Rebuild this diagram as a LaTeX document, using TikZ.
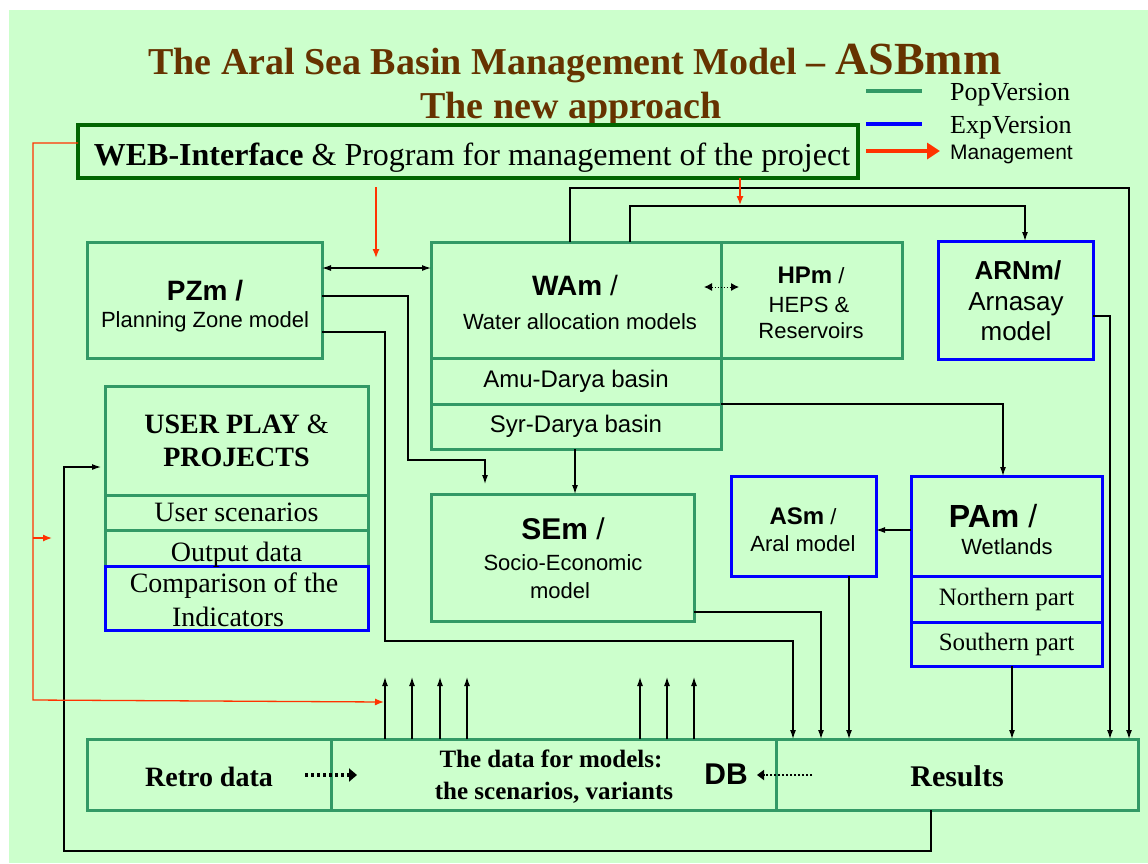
\documentclass[tikz,border=0pt]{standalone}
\usepackage{fontspec}
\setmainfont{Liberation Serif}
\setsansfont{Liberation Sans}
\usetikzlibrary{arrows.meta,calc}
\definecolor{bg}{HTML}{CCFFCC}
\definecolor{bgreen}{HTML}{339966}
\definecolor{wgreen}{HTML}{006600}
\definecolor{bblue}{HTML}{0000FF}
\definecolor{ttlbrown}{HTML}{663300}
\definecolor{mred}{HTML}{FF3300}
\newcommand{\fsz}[2]{\fontsize{#1}{#2}\selectfont}
\begin{document}
\begin{tikzpicture}[x=1pt,y=-1pt,
  gbox/.style={draw=bgreen,line width=3pt,inner sep=0pt,outer sep=0pt,align=center},
  bbox/.style={gbox,draw=bblue},
  txt/.style={inner sep=0pt,outer sep=0pt,anchor=base,align=center},
  conn/.style={draw=black,line width=1.2pt,-{Latex[length=9pt,width=6pt]}},
  rconn/.style={draw=mred,line width=1.3pt,-{Latex[length=9pt,width=7pt]}},
  dotarr/.style={draw=black,line width=4pt,dash pattern=on 3pt off 3pt},
]
\useasboundingbox (0,0) rectangle (1148,863);
\fill[white] (0,0) rectangle (1148,863);
\fill[bg] (9,10) rectangle (1148,863);

% title
\node[anchor=base west,inner sep=0pt,text=ttlbrown,font=\bfseries\fsz{38}{38}] (title) at (148,74)
  {The Aral Sea Basin Management Model -- {\fsz{46}{46}ASBmm}};
\node[txt,text=ttlbrown,font=\bfseries\fsz{38}{38}] (title2) at (571,118) {The new approach};

% legend
\coordinate (lg1a) at (866,91); \coordinate (lg1b) at (922,91);
\coordinate (lg2a) at (866,124); \coordinate (lg2b) at (922,124);
\coordinate (lg3a) at (866,151); \coordinate (lg3b) at (940,151);
\draw[bgreen,line width=4pt] (lg1a) -- (lg1b);
\draw[bblue,line width=4pt] (lg2a) -- (lg2b);
\draw[mred,line width=4pt,-{Triangle[length=13pt,width=16pt]}] (lg3a) -- (lg3b);
\node[anchor=base west,inner sep=0pt,font=\fsz{26}{26}] (lgt1) at (950,100) {PopVersion};
\node[anchor=base west,inner sep=0pt,font=\fsz{26}{26}] (lgt2) at (950,133) {ExpVersion};
\node[anchor=base west,inner sep=0pt,font=\sffamily\fsz{21}{21}] (lgt3) at (950,159) {Management};

% WEB interface
\node[draw=wgreen,line width=3.5pt,inner sep=0pt,outer sep=0pt,minimum width=780pt,minimum height=53pt] (web) at (468,151.5) {};
\node[txt,font=\fsz{32}{32}] (webt) at (472,165) {\textbf{WEB-Interface} \& Program for management of the project};

% boxes
\node[gbox,minimum width=235pt,minimum height=116pt] (pzm) at (204.5,300) {};
\node[gbox,minimum width=290pt,minimum height=116pt] (wam) at (576,300) {};
\node[gbox,minimum width=181pt,minimum height=116pt] (hpm) at (811.5,300) {};
\node[gbox,minimum width=290pt,minimum height=46pt,font=\sffamily\fsz{24}{24}] (amu) at (576,381) {Amu-Darya basin};
\node[gbox,minimum width=290pt,minimum height=45pt,font=\sffamily\fsz{24}{24}] (syr) at (576,426.5) {Syr-Darya basin};
\node[bbox,minimum width=155pt,minimum height=118pt] (arnm) at (1015.5,300) {};

\node[gbox,minimum width=263pt,minimum height=109pt,font=\bfseries\fsz{28}{33}] (user) at (236.5,440.5) {USER PLAY {\mdseries\&}\\PROJECTS};
\node[gbox,minimum width=263pt,minimum height=35pt,font=\fsz{28}{28}] (usc) at (236.5,512.5) {User scenarios};
\node[gbox,minimum width=263pt,minimum height=36pt] (outd) at (236.5,548) {};
\node[bbox,minimum width=263pt,minimum height=64pt] (comp) at (236.5,598) {};
\node[txt,font=\fsz{28}{28}] (outdt) at (236.5,561) {Output data};
\node[txt,font=\fsz{28}{28}] (compt1) at (234,592) {Comparison of the};
\node[txt,font=\fsz{28}{28}] (compt2) at (228,626) {Indicators};

\node[gbox,minimum width=263pt,minimum height=127pt] (sem) at (562.5,557.5) {};
\node[bbox,minimum width=145pt,minimum height=100pt] (asm) at (803.5,526) {};
\node[bbox,minimum width=191pt,minimum height=100pt] (pam) at (1006.5,526) {};
\node[bbox,minimum width=191pt,minimum height=46pt,font=\fsz{25}{25}] (north) at (1006.5,599) {Northern part};
\node[bbox,minimum width=191pt,minimum height=44pt,font=\fsz{25}{25}] (south) at (1006.5,644) {Southern part};

\node[gbox,minimum width=244pt,minimum height=71pt] (retro) at (209,774.5) {};
\node[gbox,minimum width=445pt,minimum height=71pt] (data) at (553.5,774.5) {};
\node[gbox,minimum width=362pt,minimum height=71pt] (res) at (957,774.5) {};

% box texts
\node[txt,font=\sffamily\bfseries\fsz{28}{28}] (pzmt1) at (205,300) {PZm /};
\node[txt,font=\sffamily\fsz{22}{22}] (pzmt2) at (205,327) {Planning Zone model};
\node[txt,font=\sffamily\fsz{28}{28}] (wamt1) at (575,295) {\textbf{WAm} /};
\node[txt,font=\sffamily\fsz{22}{22}] (wamt2) at (580,329) {Water allocation models};
\node[txt,font=\sffamily\fsz{22}{22}] (hpmt1) at (811,283) {{\bfseries\fsz{24}{24}HPm} /};
\node[txt,font=\sffamily\fsz{22}{22}] (hpmt2) at (809,312) {HEPS \&};
\node[txt,font=\sffamily\fsz{22}{22}] (hpmt3) at (811,338) {Reservoirs};
\node[txt,font=\sffamily\bfseries\fsz{26}{26}] (arnt1) at (1018,279) {ARNm/};
\node[txt,font=\sffamily\fsz{26}{26}] (arnt2) at (1016,310) {Arnasay};
\node[txt,font=\sffamily\fsz{26}{26}] (arnt3) at (1016,340) {model};
\node[txt,font=\sffamily\fsz{30}{30}] (semt1) at (563,539) {\textbf{SEm} /};
\node[txt,font=\sffamily\fsz{22}{22}] (semt2) at (563,570) {Socio-Economic};
\node[txt,font=\sffamily\fsz{22}{22}] (semt3) at (560,598) {model};
\node[txt,font=\sffamily\fsz{22}{22}] (asmt1) at (803,524) {{\bfseries\fsz{24}{24}ASm} /};
\node[txt,font=\sffamily\fsz{22}{22}] (asmt2) at (803,551) {Aral model};
\node[txt,font=\sffamily\fsz{32}{32}] (pamt1) at (993,527) {\textbf{PAm} /};
\node[txt,font=\sffamily\fsz{22}{22}] (pamt2) at (1007,554) {Wetlands};
\node[txt,font=\bfseries\fsz{28}{28}] (retrot) at (209,786) {Retro data};
\node[txt,font=\bfseries\fsz{25}{25}] (datat1) at (551,767) {The data for models:};
\node[txt,font=\bfseries\fsz{25}{25}] (datat2) at (554,799) {the scenarios, variants};
\node[txt,font=\sffamily\bfseries\fsz{30}{30}] (dbt) at (726,784) {DB};
\node[txt,font=\bfseries\fsz{30}{30}] (rest) at (957,786) {Results};

% dotted arrows
\coordinate (ra) at (305,775); \coordinate (rb) at (357,775);
\draw[dotarr,-{Triangle[length=8pt,width=13pt]}] (ra) -- (rb);
\coordinate (da) at (812,775); \coordinate (db) at (757,775);
\draw[draw=black,line width=2.5pt,dash pattern=on 2pt off 2pt,-{Triangle[length=7pt,width=10pt]}] (da) -- (db);
\coordinate (wa) at (704,287); \coordinate (wb) at (739,287);
\draw[draw=black,line width=1pt,dash pattern=on 1.5pt off 1.5pt,{Latex[length=8pt,width=8pt]}-{Latex[length=8pt,width=8pt]}] (wa) -- (wb);

% connectors
\draw[conn,{Latex[length=9pt,width=6pt]}-{Latex[length=9pt,width=6pt]}] (pzm.east |- 0,268) -- (wam.west |- 0,268);
\draw[conn,shorten >=10pt] (pzm.east |- 0,296) -- (408,296) -- (408,460) -- (485,460) -- (sem.north -| 485,0);
\draw[conn] (pzm.east |- 0,332) -- (385,332) -- (385,641) -- (793,641) -- (res.north -| 793,0);
\draw[conn] (sem.east |- 0,612) -- (821,612) -- (res.north -| 821,0);
\draw[conn] (asm.south -| 849,0) -- (res.north -| 849,0);
\draw[conn] (wam.north -| 570,0) -- (570,188) -- (1129,188) -- (res.north -| 1129,0);
\draw[conn] (wam.north -| 630,0) -- (630,206) -- (1025,206) -- (arnm.north -| 1025,0);
\draw[conn] (arnm.east |- 0,316) -- (1110,316) -- (res.north -| 1110,0);
\draw[conn] (amu.south east) -- (1003,404) -- (pam.north -| 1003,0);
\draw[conn] (syr.south -| 575,0) -- (sem.north -| 575,0);
\draw[conn] (pam.west |- 0,530) -- (asm.east |- 0,530);
\draw[conn] (south.south -| 1012,0) -- (res.north -| 1012,0);
\draw[conn,shorten >=4pt] (res.south -| 931,0) -- (931,851) -- (64,851) -- (64,467) -- (user.west |- 0,467);
\foreach \xx/\nm in {385/u1,412/u2,440/u3,467/u4,640/u5,667/u6,694/u7}{
  \coordinate (\nm) at (\xx,677);
  \draw[conn] (data.north -| \xx,0) -- (\nm);
}

% management (red)
\coordinate (rm1) at (376,258);
\coordinate (rleft) at (52,538);
\coordinate (rbot) at (384,702);
\draw[rconn,shorten <=9pt] (web.south -| 376,0) -- (rm1);
\draw[rconn] (web.south -| 740,0) -- (740,205);
\draw[rconn] (web.west |- 0,143) -- (33,143) -- (33,700) -- (rbot);
\draw[rconn] (33,538) -- (rleft);
\end{tikzpicture}
\end{document}
